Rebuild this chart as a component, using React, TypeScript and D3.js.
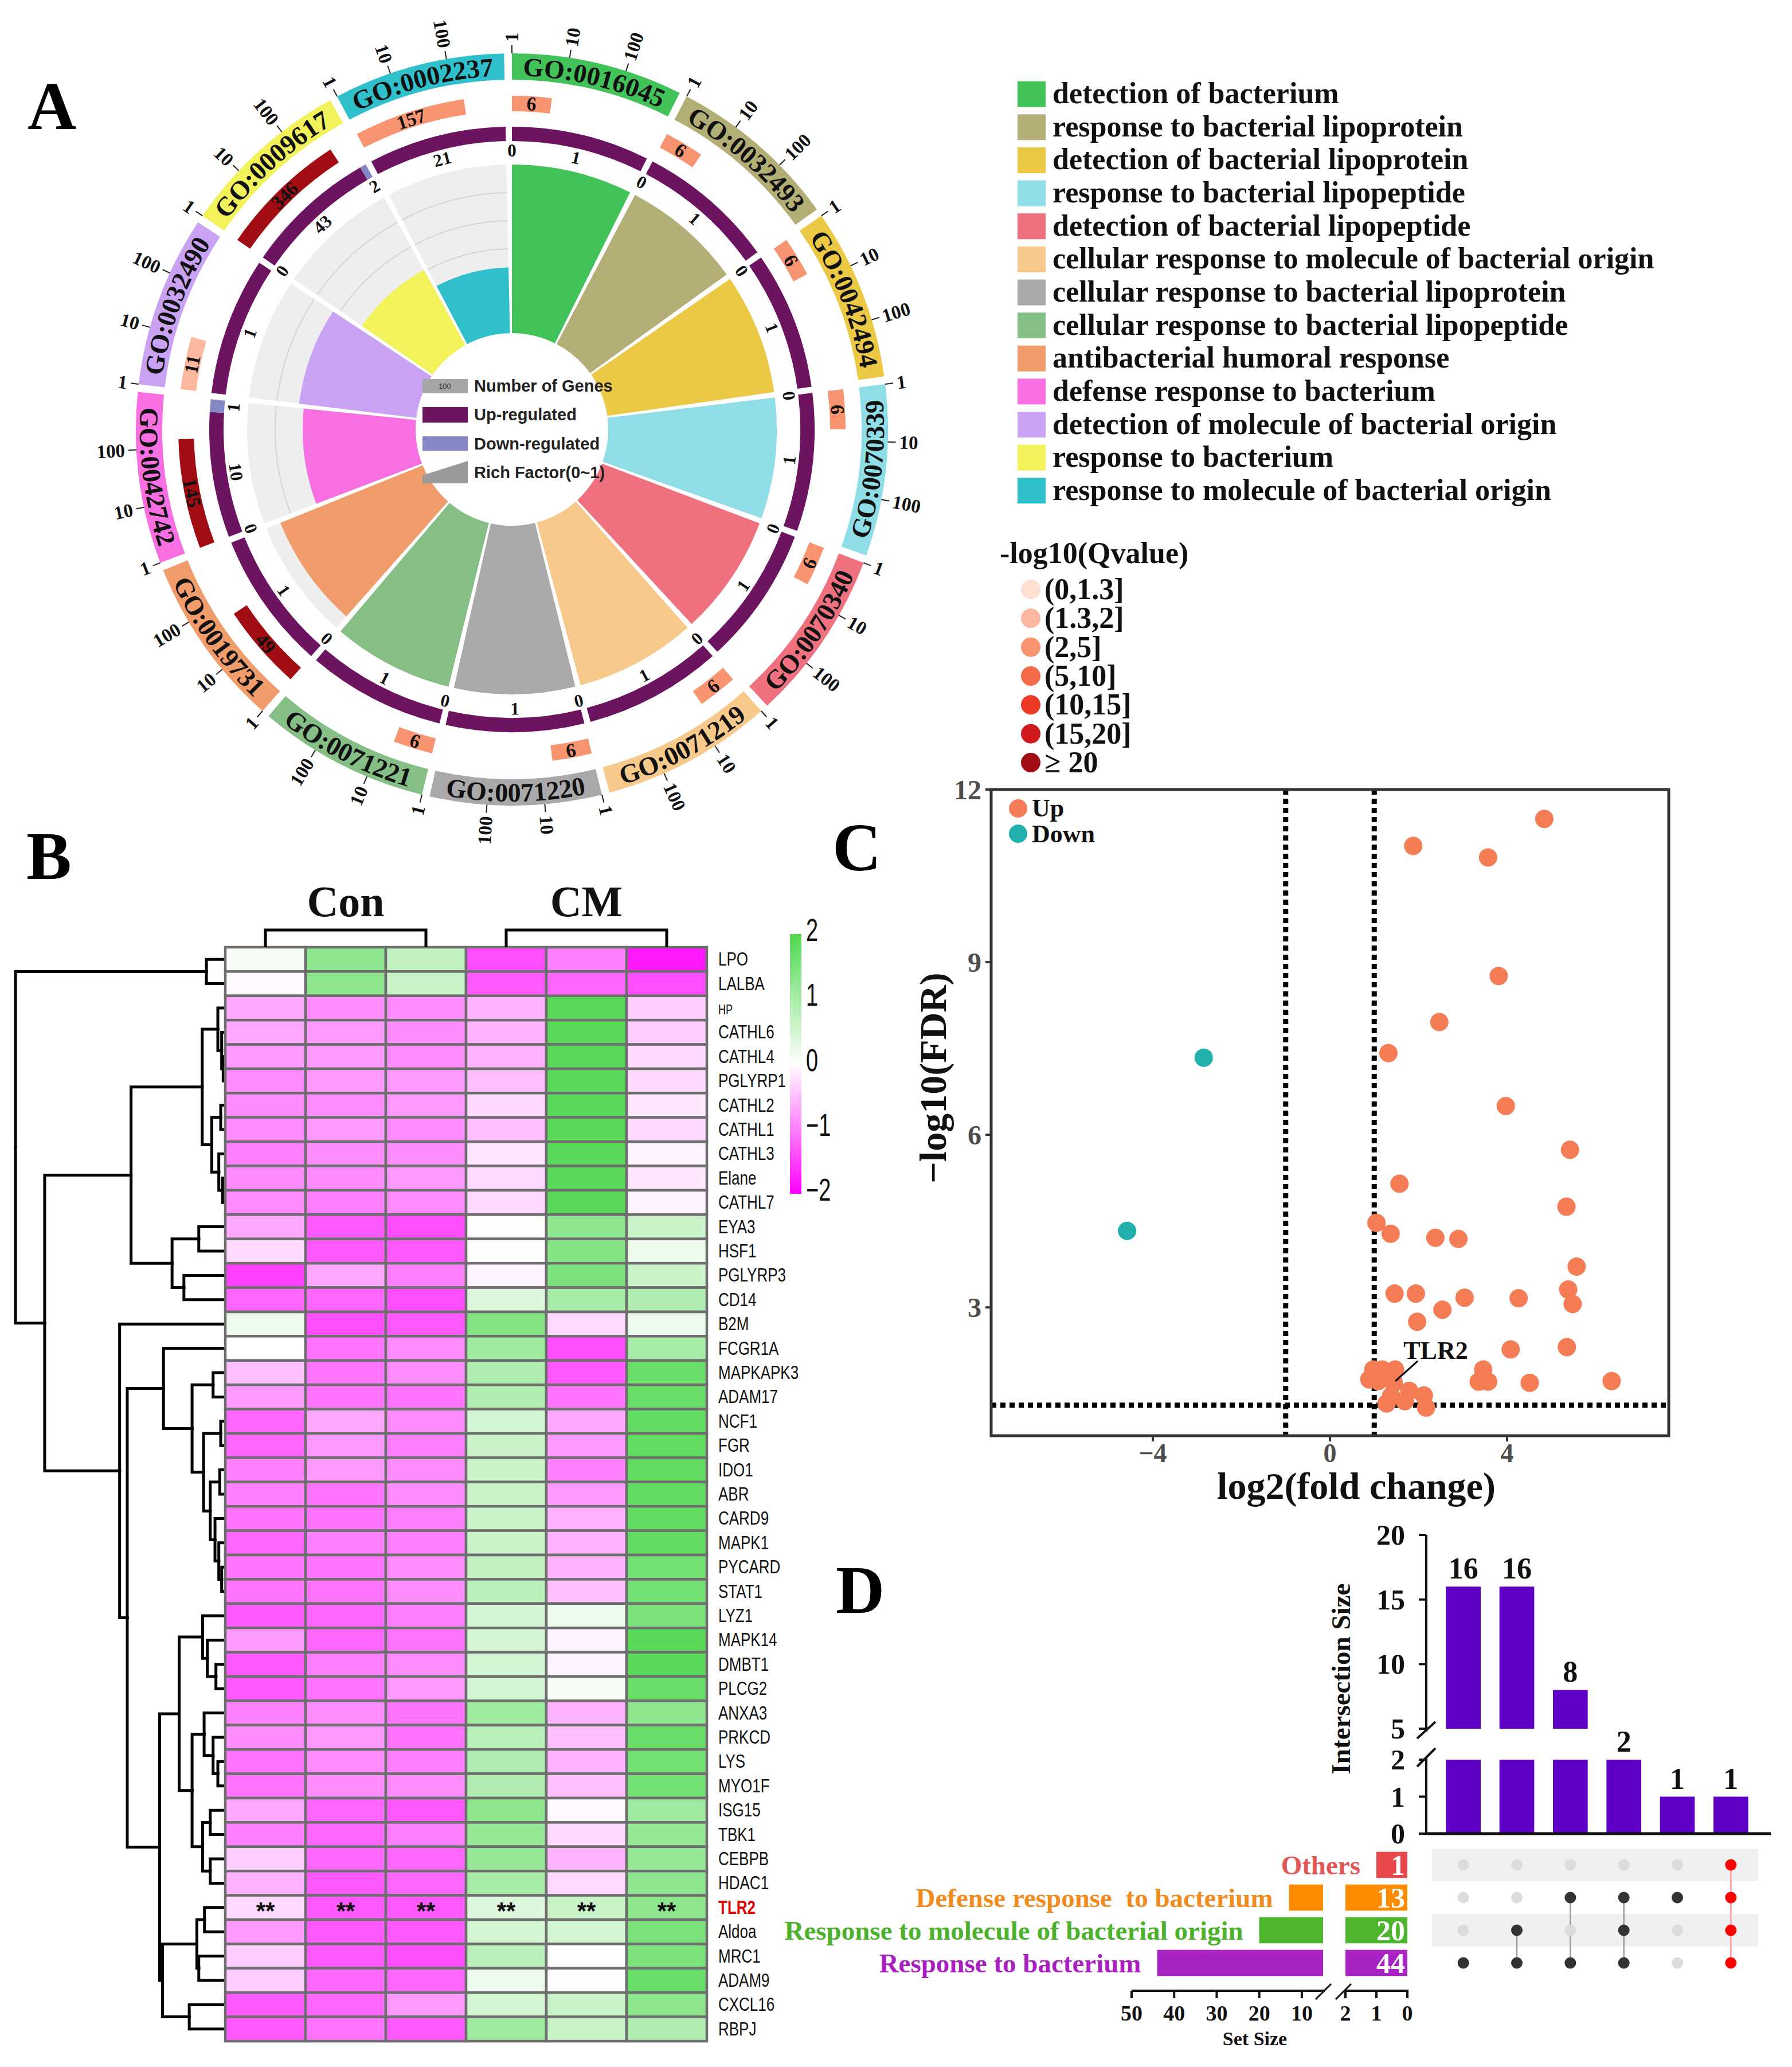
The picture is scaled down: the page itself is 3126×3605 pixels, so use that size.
import React from 'react';
import * as d3 from 'd3';

// ---------- A: GO enrichment circle ----------
const goIds = ['GO:0016045', 'GO:0032493', 'GO:0042494', 'GO:0070339', 'GO:0070340', 'GO:0071219', 'GO:0071220', 'GO:0071221', 'GO:0019731', 'GO:0042742', 'GO:0032490', 'GO:0009617', 'GO:0002237'];
const goTerms = ['detection of bacterium', 'response to bacterial lipoprotein', 'detection of bacterial lipoprotein', 'response to bacterial lipopeptide', 'detection of bacterial lipopeptide', 'cellular response to molecule of bacterial origin', 'cellular response to bacterial lipoprotein', 'cellular response to bacterial lipopeptide', 'antibacterial humoral response', 'defense response to bacterium', 'detection of molecule of bacterial origin', 'response to bacterium', 'response to molecule of bacterial origin'];
const geneNumbers = [6, 6, 6, 6, 6, 6, 6, 6, 49, 145, 11, 346, 157];
const upRegulated = [1, 1, 1, 1, 1, 1, 1, 1, 1, 10, 1, 43, 21];
const downRegulated = [0, 0, 0, 0, 0, 0, 0, 0, 0, 1, 0, 2, 0];
const richFactor = [1, 1, 1, 1, 1, 1, 1, 1, 0.91, 0.67, 0.7, 0.51, 0.39];
const qBin = [2, 2, 2, 2, 2, 2, 2, 2, 6, 6, 1, 6, 2];
const qLabels = ['(0,1.3]', '(1.3,2]', '(2,5]', '(5,10]', '(10,15]', '(15,20]', '\u2265 20'];
const axisTicks = [1, 10, 100];

const goColors = ['#41c35a', '#b3ad76', '#ebc944', '#8fdde6', '#ef717f', '#f7c98a', '#a9a9ab', '#85bf85', '#f19c6b', '#f76fe0', '#c9a2f4', '#f2f25a', '#2fc0cb'];
const qColors = ['#fde0d2', '#fbb89e', '#f8946f', '#f46a48', '#ec3a25', '#d11a1f', '#a10d12'];

// ---------- B: heatmap ----------
const genes = ['LPO', 'LALBA', 'HP', 'CATHL6', 'CATHL4', 'PGLYRP1', 'CATHL2', 'CATHL1', 'CATHL3', 'Elane', 'CATHL7', 'EYA3', 'HSF1', 'PGLYRP3', 'CD14', 'B2M', 'FCGR1A', 'MAPKAPK3', 'ADAM17', 'NCF1', 'FGR', 'IDO1', 'ABR', 'CARD9', 'MAPK1', 'PYCARD', 'STAT1', 'LYZ1', 'MAPK14', 'DMBT1', 'PLCG2', 'ANXA3', 'PRKCD', 'LYS', 'MYO1F', 'ISG15', 'TBK1', 'CEBPB', 'HDAC1', 'TLR2', 'Aldoa', 'MRC1', 'ADAM9', 'CXCL16', 'RBPJ'];
const groupNames = ['Con', 'CM'];
const zScores = [
  [0.1, 1.3, 0.7, -1.4, -1.0, -1.8],
  [-0.05, 1.3, 0.6, -1.3, -1.2, -1.4],
  [-0.7, -0.9, -0.9, -0.6, 1.9, -0.4],
  [-0.7, -0.8, -0.9, -0.6, 1.9, -0.4],
  [-0.8, -0.8, -0.9, -0.6, 1.9, -0.3],
  [-0.9, -0.8, -0.8, -0.5, 1.9, -0.3],
  [-0.9, -0.9, -0.8, -0.3, 1.9, -0.2],
  [-0.9, -0.8, -0.9, -0.5, 1.9, -0.3],
  [-1.0, -0.9, -0.9, -0.2, 1.9, -0.1],
  [-0.9, -0.9, -0.8, -0.3, 1.9, -0.2],
  [-0.9, -1.0, -0.9, -0.3, 1.9, -0.1],
  [-0.7, -1.3, -1.4, 0.05, 1.3, 0.6],
  [-0.3, -1.3, -1.3, 0.05, 1.4, 0.2],
  [-1.5, -0.7, -1.0, -0.1, 1.5, 0.6],
  [-1.2, -1.2, -1.4, 0.4, 1.0, 0.9],
  [0.2, -1.4, -1.3, 1.4, -0.3, 0.2],
  [0.0, -1.1, -0.9, 1.1, -1.4, 1.0],
  [-0.5, -1.1, -0.9, 0.9, -1.3, 1.7],
  [-0.8, -1.1, -1.1, 0.9, -1.1, 1.7],
  [-1.2, -0.7, -0.9, 0.5, -0.7, 1.8],
  [-1.2, -0.8, -1.0, 0.6, -0.8, 1.8],
  [-1.0, -0.8, -0.9, 0.6, -1.0, 1.8],
  [-1.0, -1.1, -0.9, 0.6, -0.8, 1.8],
  [-1.1, -1.1, -1.0, 0.6, -0.6, 1.8],
  [-1.2, -1.0, -1.0, 0.6, -0.6, 1.8],
  [-1.1, -1.1, -0.9, 0.7, -0.6, 1.6],
  [-1.1, -1.1, -0.9, 0.8, -0.5, 1.6],
  [-1.3, -1.2, -1.0, 0.5, 0.2, 1.5],
  [-0.8, -1.2, -1.1, 0.5, -0.1, 1.9],
  [-1.3, -1.0, -0.9, 0.5, -0.1, 1.9],
  [-1.3, -1.1, -0.8, 0.5, 0.1, 1.7],
  [-1.0, -0.9, -1.1, 1.1, -0.6, 1.3],
  [-0.9, -0.8, -1.1, 0.8, -0.5, 1.7],
  [-1.1, -0.9, -1.0, 0.9, -0.6, 1.6],
  [-1.1, -0.9, -0.9, 0.9, -0.5, 1.6],
  [-0.7, -1.2, -1.3, 1.3, -0.05, 1.1],
  [-1.0, -1.2, -1.0, 1.2, -0.3, 1.2],
  [-0.4, -1.2, -1.2, 1.2, -0.6, 1.2],
  [-0.6, -1.3, -1.2, 1.0, -0.3, 1.3],
  [-0.3, -1.3, -1.3, 0.4, 0.6, 1.3],
  [-0.8, -1.3, -1.3, 0.5, 0.5, 1.5],
  [-0.4, -1.3, -1.4, 0.8, 0.05, 1.5],
  [-0.4, -1.2, -1.2, 0.2, 0.05, 1.7],
  [-1.3, -1.2, -0.8, 0.5, 0.6, 1.3],
  [-1.3, -1.1, -1.3, 1.1, 0.6, 0.9],
];
const colorTicks = [2, 1, 0, -1, -2];
// row dendrogram: h = merge height, c = children
const rowTree = {
  h: 11.0, c: [
    { h: 0.99, c: ['LPO', 'LALBA'] },
    { h: 9.47, c: [
      { h: 4.94, c: [
        { h: 1.21, c: [
          { h: 0.39, c: ['HP', { h: 0.19, c: ['CATHL6', { h: 0.11, c: ['CATHL4', 'PGLYRP1'] }] }] },
          { h: 0.71, c: [{ h: 0.24, c: ['CATHL2', 'CATHL1'] }, { h: 0.34, c: ['CATHL3', { h: 0.14, c: ['Elane', 'CATHL7'] }] }] },
        ] },
        { h: 2.79, c: [{ h: 1.39, c: ['EYA3', 'HSF1'] }, { h: 2.17, c: ['PGLYRP3', 'CD14'] }] },
      ] },
      { h: 5.54, c: [
        'B2M',
        { h: 5.14, c: [
          { h: 3.24, c: [
            'FCGR1A',
            { h: 1.74, c: [
              { h: 0.64, c: ['MAPKAPK3', 'ADAM17'] },
              { h: 1.14, c: [
                { h: 0.24, c: ['NCF1', 'FGR'] },
                { h: 0.79, c: [
                  { h: 0.29, c: ['IDO1', 'ABR'] },
                  { h: 0.54, c: ['CARD9', { h: 0.34, c: ['MAPK1', { h: 0.19, c: ['PYCARD', 'STAT1'] }] }] },
                ] },
              ] },
            ] },
          ] },
          { h: 3.44, c: [
            { h: 2.42, c: [
              { h: 1.19, c: ['LYZ1', { h: 0.94, c: ['MAPK14', { h: 0.49, c: ['DMBT1', 'PLCG2'] }] }] },
              { h: 1.74, c: [
                { h: 1.11, c: ['ANXA3', { h: 0.64, c: ['PRKCD', { h: 0.39, c: ['LYS', 'MYO1F'] }] }] },
                { h: 1.19, c: [{ h: 0.79, c: ['ISG15', 'TBK1'] }, { h: 0.79, c: ['CEBPB', 'HDAC1'] }] },
              ] },
            ] },
            { h: 3.29, c: [
              { h: 1.49, c: [{ h: 1.09, c: ['TLR2', 'Aldoa'] }, { h: 1.39, c: ['MRC1', 'ADAM9'] }] },
              { h: 1.89, c: ['CXCL16', 'RBPJ'] },
            ] },
          ] },
        ] },
      ] },
    ] },
  ],
};

// ---------- C: volcano ----------
const upLog2FC = [4.84, 1.88, 3.57, 3.81, 2.47, 1.32, 3.97, 5.42, 1.57, 5.34, 1.05, 1.37, 2.38, 2.9, 5.57, 5.38, 5.48, 1.46, 1.94, 3.04, 4.26, 2.54, 1.97, 4.08, 5.35, 3.46, 3.36, 3.57, 4.51, 6.36, 0.98, 1.18, 1.47, 0.89, 1.09, 1.44, 1.79, 1.38, 2.12, 1.69, 1.28, 2.17];
const upFDR = [11.49, 11.02, 10.82, 8.76, 7.96, 7.42, 6.5, 5.74, 5.15, 4.75, 4.47, 4.28, 4.21, 4.19, 3.71, 3.31, 3.06, 3.24, 3.24, 3.17, 3.16, 2.96, 2.75, 2.27, 2.31, 1.92, 1.71, 1.71, 1.69, 1.72, 1.92, 1.92, 1.92, 1.75, 1.72, 1.69, 1.55, 1.46, 1.47, 1.37, 1.33, 1.26];
const downLog2FC = [-2.85, -4.58];
const downFDR = [7.34, 4.33];
const tlr2Point = [1.44, 1.69];
const volcanoXTicks = [-4, 0, 4];
const volcanoYTicks = [3, 6, 9, 12];

// ---------- D: UpSet ----------
const setNames = ['Others', 'Defense response  to bacterium', 'Response to molecule of bacterial origin', 'Response to bacterium'];
const setSizes = [1, 13, 20, 44];
const intersectionSizes = [16, 16, 8, 2, 1, 1];
const intersectionSets = [[3], [2, 3], [1, 3], [1, 2, 3], [1], [0, 1, 2, 3]];
const upperTicks = [20, 15, 10, 5];
const lowerTicks = [2, 1, 0];
const setLeftTicks = [50, 40, 30, 20, 10];
const setRightTicks = [2, 1, 0];

const setColors = ['#e8474b', '#ff8c00', '#4db52e', '#a822c4'];
const setTextColors = ['#e35656', '#f08c1e', '#4cb22c', '#a91fc0'];

const SERIF = '"Liberation Serif", "Times New Roman", serif';
const SANS = '"Liberation Sans", Arial, sans-serif';
const RAD = Math.PI / 180;

function GoCircle() {
  const cx = 893, cy = 749;
  const n = goIds.length;
  const W = (2 * Math.PI) / n;
  const gap = 1.2 * RAD;
  const a0 = (i: number) => i * W;
  const a1 = (i: number) => (i + 1) * W - gap;
  const pt = (r: number, a: number) => [cx + r * Math.sin(a), cy - r * Math.cos(a)];
  const tangent = (a: number) => {
    const d = a / RAD;
    return d > 90 && d < 270 ? d + 180 : d;
  };
  const arc = d3.arc<any>();
  const rich = d3.scaleLinear().domain([0, 1]).range([168, 462]);
  const logPos = d3.scaleLog().domain([1, 1000]).range([0, 1]);
  const ringArc = (r: number, s: number, e: number) => {
    const p = d3.path();
    p.arc(cx, cy, r, s - Math.PI / 2, e - Math.PI / 2);
    return p.toString();
  };
  const A = (inner: number, outer: number, s: number, e: number) =>
    arc({ innerRadius: inner, outerRadius: outer, startAngle: s, endAngle: e }) || '';

  const tangText = (key: string, r: number, a: number, txt: string | number, size: number, fill = '#111') => {
    const [x, y] = pt(r, a);
    return (
      <text key={key} transform={`translate(${x},${y}) rotate(${tangent(a)})`} textAnchor="middle" dominantBaseline="central"
        fontFamily={SERIF} fontWeight="bold" fontSize={size} fill={fill}>{txt}</text>
    );
  };

  return (
    <g>
      <defs>
        {goIds.map((_, i) => {
          const mid = (a0(i) + a1(i)) / 2 / RAD;
          const flip = mid > 90 && mid < 270;
          const r = flip ? 649 : 617;
          const [xs, ys] = pt(r, a0(i));
          const [xe, ye] = pt(r, a1(i));
          const d = flip ? `M${xe},${ye}A${r},${r} 0 0 0 ${xs},${ys}` : `M${xs},${ys}A${r},${r} 0 0 1 ${xe},${ye}`;
          return <path key={i} id={`gopath${i}`} d={d} />;
        })}
      </defs>
      <g transform={`translate(${cx},${cy})`}>
        {goIds.map((_, i) => <path key={'bg' + i} d={A(168, 462, a0(i), a1(i))} fill="#eeeeee" />)}
      </g>
      {goIds.map((_, i) => d3.range(1, 6).map(k => (
        <path key={`gl${i}-${k}`} d={ringArc(rich(k / 6), a0(i), a1(i))} fill="none" stroke="#d4d4d4" strokeWidth={2} />
      )))}
      <g transform={`translate(${cx},${cy})`}>
        {goIds.map((_, i) => <path key={'rf' + i} d={A(168, rich(richFactor[i]), a0(i), a1(i))} fill={goColors[i]} />)}
        {goIds.map((_, i) => {
          const tot = upRegulated[i] + downRegulated[i];
          const split = a0(i) + (upRegulated[i] / tot) * (a1(i) - a0(i));
          return (
            <g key={'ud' + i}>
              <path d={A(503, 528, a0(i), split)} fill="#6d1461" />
              {downRegulated[i] > 0 && <path d={A(503, 528, split, a1(i))} fill="#8487c4" />}
            </g>
          );
        })}
        {goIds.map((_, i) => (
          <path key={'cnt' + i} d={A(555, 582, a0(i), a0(i) + logPos(geneNumbers[i]) * (a1(i) - a0(i)))} fill={qColors[qBin[i]]} />
        ))}
        {goIds.map((_, i) => <path key={'band' + i} d={A(610, 656, a0(i), a1(i))} fill={goColors[i]} />)}
      </g>
      {goIds.map((_, i) => {
        const tot = upRegulated[i] + downRegulated[i];
        const split = a0(i) + (upRegulated[i] / tot) * (a1(i) - a0(i));
        const prev = (i + n - 1) % n;
        const cntEnd = a0(i) + logPos(geneNumbers[i]) * (a1(i) - a0(i));
        return (
          <g key={'lab' + i}>
            {downRegulated[prev] === 0 && tangText('z' + i, 487, a0(i), 0, 31)}
            {tangText('u' + i, 487, (a0(i) + split) / 2, upRegulated[i], 31)}
            {downRegulated[i] > 0 && tangText('d' + i, 487, (split + a1(i)) / 2, downRegulated[i], 31)}
            {tangText('c' + i, 569, (a0(i) + cntEnd) / 2, geneNumbers[i], 34)}
            <text fontFamily={SERIF} fontWeight="bold" fontSize={46} fill="#111">
              <textPath href={`#gopath${i}`} startOffset="50%" textAnchor="middle">{goIds[i]}</textPath>
            </text>
            {axisTicks.map(t => {
              const a = a0(i) + logPos(t) * (a1(i) - a0(i));
              const [x1, y1] = pt(656, a);
              const [x2, y2] = pt(670, a);
              const [tx, ty] = pt(676, a);
              const d = a / RAD;
              const right = d < 180;
              return (
                <g key={'t' + t}>
                  <line x1={x1} y1={y1} x2={x2} y2={y2} stroke="#222" strokeWidth={2} />
                  <text transform={`translate(${tx},${ty}) rotate(${right ? d - 90 : d + 90})`} textAnchor={right ? 'start' : 'end'}
                    dominantBaseline="central" fontFamily={SERIF} fontWeight="bold" fontSize={33} fill="#111">{t}</text>
                </g>
              );
            })}
          </g>
        );
      })}
      {/* centre legend */}
      <g fontFamily={SANS} fontWeight="bold" fontSize={29} fill="#222">
        <rect x={737} y={661} width={79} height={25} fill="#a6a6a6" />
        <text x={776} y={678} textAnchor="middle" fontSize={13} fontWeight="normal" fill="#333">100</text>
        <text x={827} y={683}>Number of Genes</text>
        <rect x={737} y={710} width={79} height={27} fill="#6d1461" />
        <text x={827} y={733}>Up-regulated</text>
        <rect x={737} y={761} width={79} height={25} fill="#8487c4" />
        <text x={827} y={784}>Down-regulated</text>
        <polygon points="737,829 816,804 816,843 737,843" fill="#9a9a9a" />
        <text x={827} y={834}>Rich Factor(0~1)</text>
      </g>
    </g>
  );
}

function GoLegend() {
  const y = d3.scaleBand<number>().domain(d3.range(goTerms.length)).range([136, 884]).paddingInner(0.22).paddingOuter(0.1);
  const qy = d3.scalePoint<number>().domain(d3.range(qLabels.length)).range([1028, 1330]);
  return (
    <g fontFamily={SERIF} fontWeight="bold" fill="#111">
      {goTerms.map((t, i) => (
        <g key={i}>
          <rect x={1775} y={y(i)} width={49} height={y.bandwidth()} fill={goColors[i]} />
          <text x={1836} y={(y(i) as number) + y.bandwidth() / 2 + 16} fontSize={52}>{t}</text>
        </g>
      ))}
      <text x={1744} y={982} fontSize={52}>-log10(Qvalue)</text>
      {qLabels.map((l, i) => (
        <g key={l}>
          <circle cx={1798} cy={qy(i)} r={17} fill={qColors[i]} />
          <text x={1822} y={(qy(i) as number) + 17} fontSize={52}>{l}</text>
        </g>
      ))}
    </g>
  );
}

function Heatmap() {
  const x = d3.scaleBand<number>().domain(d3.range(6)).range([393, 1233]);
  const y = d3.scaleBand<string>().domain(genes).range([1652, 3560]);
  const color = d3.scaleLinear<string>().domain([-2, 0, 2]).range(['#ff00ff', '#ffffff', '#4fd84f']).clamp(true);
  const hx = d3.scaleLinear().domain([0, 11]).range([393, 27]);
  const cb = d3.scaleLinear().domain([-2, 2]).range([2082, 1629]);
  const root = d3.hierarchy<any>(rowTree, d => (typeof d === 'string' ? null : d.c));
  const pos = new Map<any, [number, number]>();
  root.eachAfter(node => {
    if (!node.children) pos.set(node, [393, (y(node.data) as number) + y.bandwidth() / 2]);
    else pos.set(node, [hx(node.data.h), d3.mean(node.children, c => pos.get(c)![1]) as number]);
  });
  const links: string[] = [];
  root.each(node => {
    if (!node.children) return;
    const [px, py] = pos.get(node)!;
    node.children.forEach(c => {
      const [qx, qy] = pos.get(c)!;
      links.push(`M${px},${py}V${qy}H${qx}`);
    });
  });
  const groupCols = [[0, 2], [3, 5]];
  return (
    <g>
      <defs>
        <linearGradient id="hmgrad" x1="0" y1="1" x2="0" y2="0">
          {d3.range(-2, 2.01, 0.5).map(v => <stop key={v} offset={`${((v + 2) / 4) * 100}%`} stopColor={color(v)} />)}
        </linearGradient>
      </defs>
      {links.map((d, i) => <path key={i} d={d} fill="none" stroke="#000" strokeWidth={5} strokeLinecap="square" />)}
      {genes.map((g, r) => zScores[r].map((v, c) => (
        <rect key={g + c} x={x(c)} y={y(g)} width={x.bandwidth()} height={y.bandwidth()} fill={color(v)} stroke="#6e6e6e" strokeWidth={4.5} />
      )))}
      {d3.range(6).map(c => (
        <text key={'s' + c} x={(x(c) as number) + x.bandwidth() / 2} y={(y('TLR2') as number) + y.bandwidth() / 2 + 20}
          textAnchor="middle" fontFamily={SANS} fontWeight="bold" fontSize={42} fill="#111">**</text>
      ))}
      {genes.map(g => (
        <text key={'l' + g} transform={`translate(1253,${(y(g) as number) + y.bandwidth() / 2 + 11}) scale(1,1.3)`}
          fontFamily={SANS} fontSize={g === 'HP' ? 18 : 26} fontWeight={g === 'TLR2' ? 'bold' : 'normal'}
          fill={g === 'TLR2' ? '#e00000' : '#111'}>{g}</text>
      ))}
      {groupCols.map(([s, e], i) => {
        const xs = (x(s) as number) + x.bandwidth() / 2;
        const xe = (x(e) as number) + x.bandwidth() / 2;
        return (
          <g key={'grp' + i}>
            <path d={`M${xs},1652V1622H${xe}V1652`} fill="none" stroke="#000" strokeWidth={5} />
            <text x={(xs + xe) / 2} y={1598} textAnchor="middle" fontFamily={SERIF} fontWeight="bold" fontSize={76} fill="#111">{groupNames[i]}</text>
          </g>
        );
      })}
      <rect x={1378} y={1629} width={20} height={453} fill="url(#hmgrad)" />
      {colorTicks.map(t => (
        <text key={'ct' + t} transform={`translate(1406,${cb(t) + 12}) scale(1,1.45)`} fontFamily={SANS} fontSize={38} fill="#111">
          {t < 0 ? `\u2212${-t}` : t}
        </text>
      ))}
    </g>
  );
}

function Volcano() {
  const x = d3.scaleLinear().domain([-7.65, 7.65]).range([1729, 2911]);
  const y = d3.scaleLinear().domain([0.77, 12]).range([2504, 1377]);
  const dots = { stroke: '#000', strokeWidth: 9, strokeDasharray: '9 7' };
  return (
    <g>
      <defs>
        <clipPath id="vclip"><rect x={1729} y={1377} width={1182} height={1127} /></clipPath>
      </defs>
      <g clipPath="url(#vclip)">
        <line x1={x(-1)} x2={x(-1)} y1={1377} y2={2504} {...dots} />
        <line x1={x(1)} x2={x(1)} y1={1377} y2={2504} {...dots} />
        <line x1={1729} x2={2911} y1={y(1.3)} y2={y(1.3)} {...dots} />
        {upLog2FC.map((v, i) => <circle key={'u' + i} cx={x(v)} cy={y(upFDR[i])} r={16} fill="#f47d55" />)}
        {downLog2FC.map((v, i) => <circle key={'d' + i} cx={x(v)} cy={y(downFDR[i])} r={16} fill="#22b0ac" />)}
      </g>
      <line x1={x(tlr2Point[0]) + 3} y1={y(tlr2Point[1]) - 3} x2={x(tlr2Point[0]) + 42} y2={y(tlr2Point[1]) - 38} stroke="#000" strokeWidth={3} />
      <text x={x(tlr2Point[0]) + 17} y={y(tlr2Point[1]) - 42} fontFamily={SERIF} fontWeight="bold" fontSize={44} fill="#111">TLR2</text>
      <rect x={1729} y={1377} width={1182} height={1127} fill="none" stroke="#333" strokeWidth={5} />
      {volcanoYTicks.map(t => (
        <g key={'y' + t}>
          <line x1={1719} x2={1729} y1={y(t)} y2={y(t)} stroke="#333" strokeWidth={4} />
          <text x={1712} y={y(t) + 17} textAnchor="end" fontFamily={SERIF} fontWeight="bold" fontSize={48} fill="#4d4d4d">{t}</text>
        </g>
      ))}
      {volcanoXTicks.map(t => (
        <g key={'x' + t}>
          <line x1={x(t)} x2={x(t)} y1={2504} y2={2514} stroke="#333" strokeWidth={4} />
          <text x={x(t)} y={2550} textAnchor="middle" fontFamily={SERIF} fontWeight="bold" fontSize={46} fill="#4d4d4d">{t < 0 ? `\u2212${-t}` : t}</text>
        </g>
      ))}
      <text x={2366} y={2614} textAnchor="middle" fontFamily={SERIF} fontWeight="bold" fontSize={66} fill="#111">log2(fold change)</text>
      <text transform="translate(1650,1880) rotate(-90)" textAnchor="middle" fontFamily={SERIF} fontWeight="bold" fontSize={66} fill="#111">{'\u2212log10(FDR)'}</text>
      <circle cx={1776} cy={1410} r={16} fill="#f47d55" />
      <circle cx={1776} cy={1454} r={16} fill="#22b0ac" />
      <text x={1800} y={1424} fontFamily={SERIF} fontWeight="bold" fontSize={44} fill="#111">Up</text>
      <text x={1800} y={1469} fontFamily={SERIF} fontWeight="bold" fontSize={44} fill="#111">Down</text>
    </g>
  );
}

function UpSet() {
  const bx = d3.scaleBand<number>().domain(d3.range(intersectionSizes.length)).range([2506, 3066]).paddingInner(0.35).paddingOuter(0.175);
  const yU = d3.scaleLinear().domain([5, 20]).range([3015, 2677]);
  const yL = d3.scaleLinear().domain([0, 2]).range([3198, 3069]);
  const row = d3.scaleBand<number>().domain(d3.range(setNames.length)).range([3224, 3452]).paddingInner(0.2).paddingOuter(0.1);
  const xl = d3.scaleLinear().domain([5, 50]).range([2308, 1974]);
  const xr = d3.scaleLinear().domain([0, 2]).range([2455, 2347]);
  const rc = (i: number) => (row(i) as number) + row.bandwidth() / 2;
  const bc = (i: number) => (bx(i) as number) + bx.bandwidth() / 2;
  const font = { fontFamily: SERIF, fontWeight: 'bold' as const };
  return (
    <g>
      {[0, 2].map(i => <rect key={'st' + i} x={2498} y={rc(i) - 28} width={569} height={56} fill="#f0f0f0" />)}
      {intersectionSizes.map((v, i) => (
        <g key={'b' + i}>
          <rect x={bx(i)} y={yL(Math.min(v, 2))} width={bx.bandwidth()} height={3198 - yL(Math.min(v, 2))} fill="#5f00c6" />
          {v > 5 && <rect x={bx(i)} y={yU(v)} width={bx.bandwidth()} height={3015 - yU(v)} fill="#5f00c6" />}
          <text x={bc(i)} y={(v > 5 ? yU(v) : yL(v)) - 14} textAnchor="middle" fontSize={52} fill="#111" {...font}>{v}</text>
        </g>
      ))}
      <line x1={2488} x2={2488} y1={2677} y2={3020} stroke="#111" strokeWidth={4} />
      <line x1={2488} x2={2488} y1={3064} y2={3198} stroke="#111" strokeWidth={4} />
      <line x1={2472} y1={3032} x2={2504} y2={3003} stroke="#111" strokeWidth={4} />
      <line x1={2472} y1={3081} x2={2504} y2={3049} stroke="#111" strokeWidth={4} />
      <line x1={2486} x2={3089} y1={3198} y2={3198} stroke="#111" strokeWidth={5} />
      {upperTicks.map(t => (
        <g key={'ut' + t}>
          <line x1={2475} x2={2488} y1={yU(t)} y2={yU(t)} stroke="#111" strokeWidth={4} />
          <text x={2451} y={yU(t) + 17} textAnchor="end" fontSize={50} fill="#111" {...font}>{t}</text>
        </g>
      ))}
      {lowerTicks.map(t => (
        <g key={'lt' + t}>
          <line x1={2475} x2={2488} y1={yL(t)} y2={yL(t)} stroke="#111" strokeWidth={4} />
          <text x={2451} y={yL(t) + 17} textAnchor="end" fontSize={50} fill="#111" {...font}>{t}</text>
        </g>
      ))}
      <text transform="translate(2355,2928) rotate(-90)" textAnchor="middle" fontSize={47} fill="#111" {...font}>Intersection Size</text>
      {intersectionSets.map((sets, i) => {
        const red = sets.length === setNames.length;
        const ys = sets.map(rc);
        return (
          <g key={'m' + i}>
            {sets.length > 1 && <line x1={bc(i)} x2={bc(i)} y1={d3.min(ys)} y2={d3.max(ys)} stroke={red ? '#ff9a9a' : '#9a9a9a'} strokeWidth={2.5} />}
            {setNames.map((_, r) => (
              <circle key={r} cx={bc(i)} cy={rc(r)} r={10} fill={sets.includes(r) ? (red ? '#ff0000' : '#333333') : '#dcdcdc'} />
            ))}
          </g>
        );
      })}
      {setSizes.map((s, i) => {
        const left = s > 5 ? xl(Math.min(s, 50)) : xr(Math.min(s, 2));
        return (
          <g key={'ss' + i}>
            <rect x={xr(Math.min(s, 2))} y={row(i)} width={2455 - xr(Math.min(s, 2))} height={row.bandwidth()} fill={setColors[i]} />
            {s > 5 && <rect x={xl(s)} y={row(i)} width={2308 - xl(s)} height={row.bandwidth()} fill={setColors[i]} />}
            <text x={2451} y={rc(i) + 17} textAnchor="end" fontSize={50} fill="#fff" {...font}>{s}</text>
            <text x={left - 28} y={rc(i) + 16} textAnchor="end" fontSize={47} fill={setTextColors[i]} style={{ whiteSpace: 'pre' }} {...font}>{setNames[i]}</text>
          </g>
        );
      })}
      <line x1={1974} x2={2311} y1={3472} y2={3472} stroke="#111" strokeWidth={4} />
      <line x1={2346} x2={2457} y1={3472} y2={3472} stroke="#111" strokeWidth={4} />
      <line x1={2295} y1={3487} x2={2322} y2={3460} stroke="#111" strokeWidth={3} />
      <line x1={2330} y1={3487} x2={2357} y2={3460} stroke="#111" strokeWidth={3} />
      {setLeftTicks.map(t => (
        <g key={'sl' + t}>
          <line x1={xl(t)} x2={xl(t)} y1={3472} y2={3485} stroke="#111" strokeWidth={4} />
          <text x={xl(t)} y={3524} textAnchor="middle" fontSize={38} fill="#111" {...font}>{t}</text>
        </g>
      ))}
      {setRightTicks.map(t => (
        <g key={'sr' + t}>
          <line x1={xr(t)} x2={xr(t)} y1={3472} y2={3485} stroke="#111" strokeWidth={4} />
          <text x={xr(t)} y={3524} textAnchor="middle" fontSize={38} fill="#111" {...font}>{t}</text>
        </g>
      ))}
      <text x={2189} y={3567} textAnchor="middle" fontSize={34} fill="#111" {...font}>Set Size</text>
    </g>
  );
}

export default function App() {
  const panel = { fontFamily: SERIF, fontWeight: 'bold' as const, fontSize: 118, fill: '#000' };
  return (
    <svg width={3126} height={3605} viewBox="0 0 3126 3605" xmlns="http://www.w3.org/2000/svg"
      style={{ position: 'absolute', left: 0, top: 0, background: '#fff' }}>
      <rect width={3126} height={3605} fill="#fff" />
      <GoCircle />
      <GoLegend />
      <Heatmap />
      <Volcano />
      <UpSet />
      <text x={48} y={225} {...panel}>A</text>
      <text x={46} y={1533} {...panel}>B</text>
      <text x={1452} y={1518} {...panel}>C</text>
      <text x={1458} y={2813} {...panel}>D</text>
    </svg>
  );
}
